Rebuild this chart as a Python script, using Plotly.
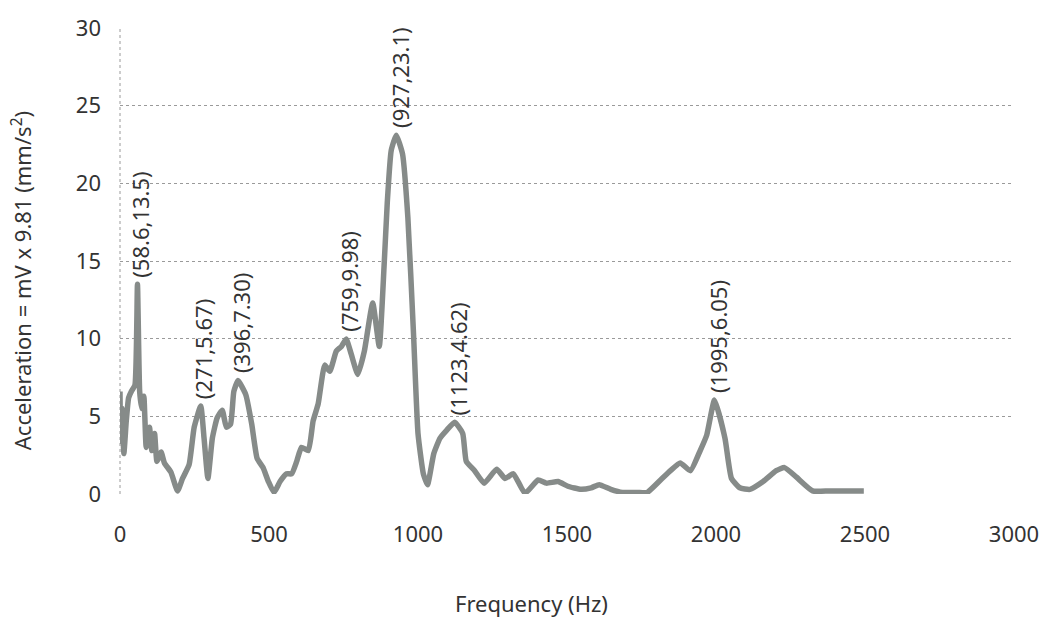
import plotly.graph_objects as go

# Frequency (Hz) and acceleration values
freq = [0, 2, 7, 13, 21, 29, 38, 50, 58.6, 66, 73, 80, 88, 99, 107, 116, 124, 138, 149,
        171, 193, 210, 232, 249, 271, 282, 295, 310, 326, 343, 357, 371, 382, 396, 422,
        442, 460, 480, 498, 517, 537, 559, 576, 593, 609, 632, 648, 665, 687, 704, 726,
        743, 759, 776, 798, 820, 848, 870, 886, 897, 910, 927, 948, 966, 985, 1000, 1018,
        1032, 1053, 1074, 1096, 1123, 1150, 1162, 1190, 1222, 1264, 1292, 1320, 1359, 1403,
        1431, 1470, 1503, 1547, 1581, 1608, 1647, 1686, 1736, 1769, 1814, 1847, 1880, 1914,
        1947, 1969, 1995, 2030, 2052, 2080, 2114, 2158, 2202, 2230, 2269, 2324, 2380, 2446,
        2496]
accel = [6.6, 3.4, 5.5, 2.6, 4.7, 6.2, 6.6, 7.0, 13.5, 6.6, 5.5, 6.3, 3.0, 4.3, 2.8, 3.9, 2.1, 2.7, 2.0,
         1.4, 0.2, 1.0, 1.9, 4.3, 5.67, 3.6, 1.0, 3.6, 4.9, 5.4, 4.3, 4.5, 6.6, 7.30, 6.4,
         4.5, 2.3, 1.7, 0.8, 0.1, 0.8, 1.3, 1.3, 2.1, 3.0, 2.8, 4.7, 5.8, 8.3, 7.9, 9.2,
         9.5, 9.98, 9.0, 7.7, 9.2, 12.3, 9.5, 14.6, 18.8, 22.1, 23.1, 21.9, 17.8, 10.3, 3.9, 1.3,
         0.6, 2.6, 3.6, 4.1, 4.62, 3.9, 2.1, 1.5, 0.7, 1.6, 1.0, 1.3, 0.05, 0.9,
         0.7, 0.8, 0.5, 0.3, 0.4, 0.6, 0.3, 0.1, 0.1, 0.1, 0.9, 1.5, 2.0, 1.5,
         2.8, 3.8, 6.05, 3.6, 1.0, 0.4, 0.3, 0.8, 1.5, 1.7, 1.1, 0.2, 0.2, 0.2,
         0.2]

# Peak labels
peak_freq = [58.6, 271, 396, 759, 927, 1123, 1995]
peak_accel = [13.5, 5.67, 7.30, 9.98, 23.1, 4.62, 6.05]
peak_text = ["(58.6,13.5)", "(271,5.67)", "(396,7.30)", "(759,9.98)",
             "(927,23.1)", "(1123,4.62)", "(1995,6.05)"]

x_ticks = [0, 500, 1000, 1500, 2000, 2500, 3000]
y_ticks = [0, 5, 10, 15, 20, 25, 30]

FONT = "Noto Sans"
TXT = "#333333"

fig = go.Figure()
fig.add_trace(go.Scatter(
    x=freq, y=accel, mode="lines",
    line=dict(color="#868b89", width=5.5, shape="spline", smoothing=0.45),
    hoverinfo="x+y", showlegend=False,
))

annotations = []
for fx, ay, t in zip(peak_freq, peak_accel, peak_text):
    annotations.append(dict(
        x=fx, y=ay, xref="x", yref="y", text=t, showarrow=False,
        textangle=-90, xanchor="center", yanchor="bottom", yshift=5, xshift=3,
        font=dict(family=FONT, size=22, color=TXT),
    ))

annotations.append(dict(
    x=-0.11, y=0.458, xref="paper", yref="paper",
    text="Acceleration = mV x 9.81 (mm/s<sup>2</sup>)", showarrow=False,
    textangle=-90, xanchor="center", yanchor="middle",
    font=dict(family=FONT, size=22, color=TXT),
))
annotations.append(dict(
    x=0.46, y=-0.233, xref="paper", yref="paper",
    text="Frequency (Hz)", showarrow=False,
    xanchor="center", yanchor="middle",
    font=dict(family=FONT, size=22, color=TXT),
))

fig.update_layout(
    width=1051, height=617,
    margin=dict(l=120, r=26, t=27, b=123),
    paper_bgcolor="white", plot_bgcolor="white",
    annotations=annotations,
    shapes=[dict(type="line", xref="paper", yref="paper", x0=0, x1=0, y0=0, y1=1,
                 line=dict(color="#9a9a9a", width=1, dash="dot"), layer="below")],
    xaxis=dict(
        range=[0, 3000], tickvals=x_ticks, ticktext=[str(v) for v in x_ticks],
        showgrid=False, zeroline=False, showline=False, ticks="",
        tickfont=dict(family=FONT, size=22, color=TXT), ticklabelstandoff=25,
    ),
    yaxis=dict(
        range=[0, 30], tickvals=y_ticks, ticktext=[str(v) for v in y_ticks],
        showgrid=True, gridcolor="#9a9a9a", gridwidth=1, griddash="dot",
        zeroline=False, showline=False, ticks="",
        tickfont=dict(family=FONT, size=22, color=TXT), ticklabelstandoff=18,
    ),
)

fig.write_html("out.html")
